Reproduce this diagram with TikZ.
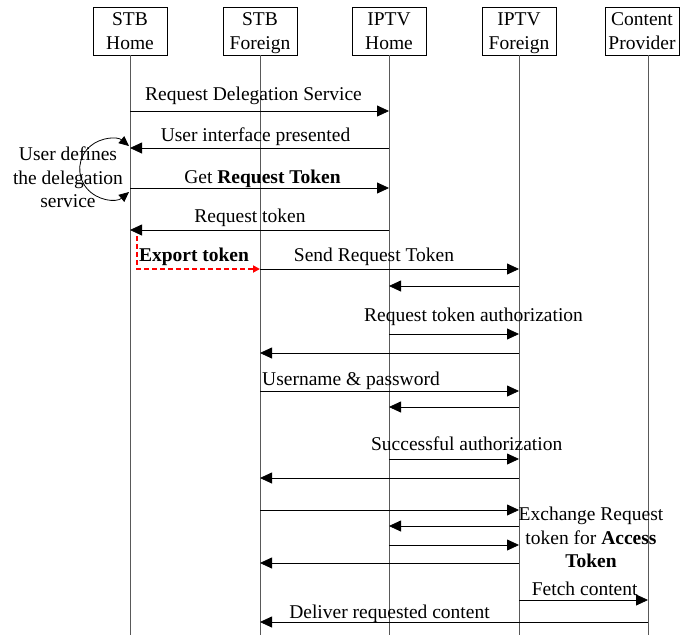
\documentclass[tikz,border=0pt]{standalone}
\usepackage{fontspec}
\setmainfont{Liberation Serif}
\usetikzlibrary{arrows.meta,calc}
\newcommand{\seqfont}{\fontsize{19.5pt}{23.5pt}\selectfont}

\begin{document}
\begin{tikzpicture}[x=1pt,y=-1pt,
  actor/.style={draw,line width=0.9pt,minimum width=74pt,minimum height=48pt,inner sep=2pt,align=center,font=\seqfont,text depth=0pt},
  life/.style={draw=black!65,line width=0.9pt},
  msg/.style={-{Triangle[length=12pt,width=11pt]},line width=0.8pt},
  lab/.style={font=\seqfont,inner sep=0pt,anchor=base},
  blk/.style={font=\seqfont,inner sep=0pt,anchor=north,align=center},
  export/.style={-{Triangle[length=7pt,width=7pt]},red,line width=2pt,dash pattern=on 5pt off 3pt}]
  \useasboundingbox (0,0) rectangle (686,635);
  % participants
  \node[actor] (stbh) at (130,31) {STB\\Home};
  \node[actor] (stbf) at (260,31) {STB\\Foreign};
  \node[actor] (iptvh) at (389,31) {IPTV\\Home};
  \node[actor] (iptvf) at (519,31) {IPTV\\Foreign};
  \node[actor] (cprov) at (642,31) {Content\\Provider};
  \foreach \n in {stbh,stbf,iptvh,iptvf}
    \draw[life] (\n.south) -- (\n.south |- 0,635);
  \coordinate (cpl) at ([xshift=6pt]cprov.south);
  \draw[life] (cpl) -- (cpl |- 0,635);
  % messages
  \foreach \a/\b/\y in {stbh/iptvh/111, iptvh/stbh/148, stbh/iptvh/188, iptvh/stbh/230,
      stbf/iptvf/269, iptvf/iptvh/286, iptvh/iptvf/334, iptvf/stbf/353,
      stbf/iptvf/391, iptvf/iptvh/407, iptvh/iptvf/459, iptvf/stbf/478,
      stbf/iptvf/510, iptvf/iptvh/526, iptvh/iptvf/545, iptvf/stbf/563,
      iptvf/cpl/600, cpl/stbf/622}
    \draw[msg] (\a |- 0,\y) -- (\b |- 0,\y);
  % user loop and token export
  \draw[{Triangle[length=10pt,width=9pt]}-{Triangle[length=10pt,width=9pt]},line width=0.8pt]
    ($(stbh |- 0,192)+(-1,0)$) arc[start angle=50,end angle=310,radius=30];
  \draw[export] ($(stbh |- 0,236)+(7,0)$) |- (stbf |- 0,269);
  % labels
  \node[lab] (rds) at (253.5,100) {Request Delegation Service};
  \node[lab] (uip) at (255.5,141) {User interface presented};
  \node[lab] (grt) at (262.5,183) {Get \textbf{Request Token}};
  \node[lab] (rtk) at (250,222.7) {Request token};
  \node[lab] (ext) at (194,261.7) {\textbf{Export token}};
  \node[lab] (srt) at (374,261.7) {Send Request Token};
  \node[lab] (rta) at (473.5,321.7) {Request token authorization};
  \node[lab] (unp) at (351,385) {Username \& password};
  \node[lab] (sca) at (466.7,450) {Successful authorization};
  \node[lab] (fco) at (584.7,595) {Fetch content};
  \node[lab] (drc) at (389.5,618.3) {Deliver requested content};
  \node[blk] (udd) at (68,147) {User defines\\the delegation\\service};
  \node[blk] (exa) at (591,507) {Exchange Request\\token for \textbf{Access}\\\textbf{Token}};
\end{tikzpicture}
\end{document}
